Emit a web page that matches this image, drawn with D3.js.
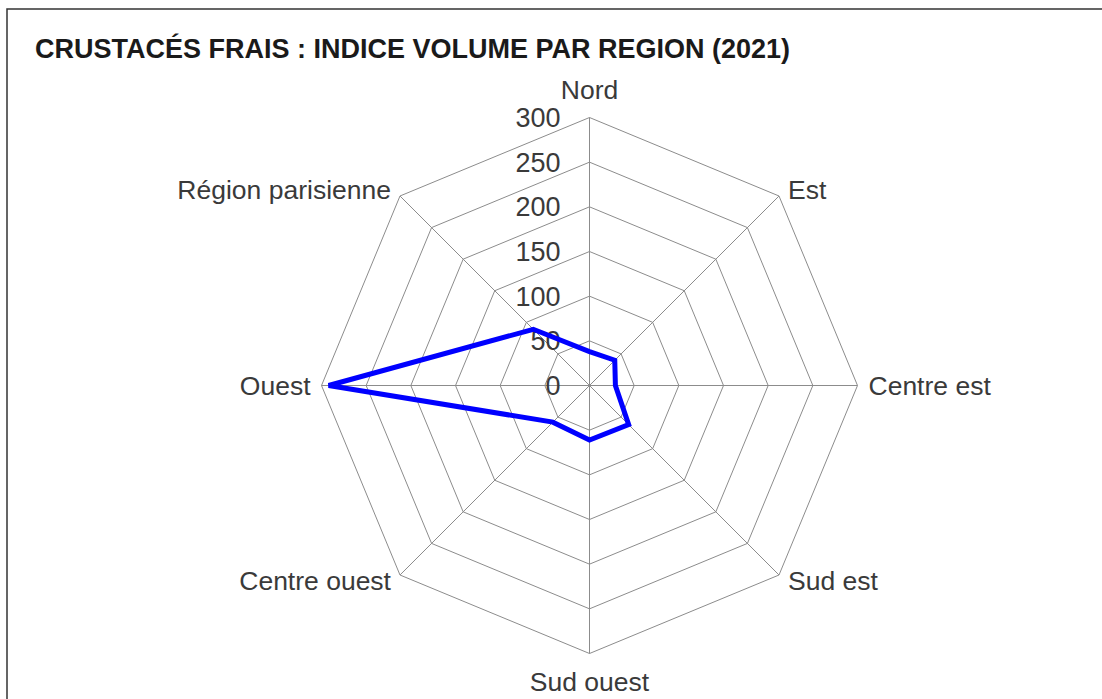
<!DOCTYPE html>
<html>
<head>
<meta charset="utf-8">
<script src="https://cdn.jsdelivr.net/npm/d3@7"></script>
<style>
  html, body { margin: 0; padding: 0; background: #fff; }
  svg { display: block; }
  text { font-family: "Liberation Sans", Arial, sans-serif; }
</style>
</head>
<body>
<svg id="chart" width="1102" height="699"></svg>
<script>
// Regions, clockwise from the top
const regions = ["Nord", "Est", "Centre est", "Sud est", "Sud ouest", "Centre ouest", "Ouest", "Région parisienne"];
// Volume index per region (2021)
const indexValues = [38, 40, 29, 62, 61, 58, 292, 89];
// Radial ticks
const radialTicks = [0, 50, 100, 150, 200, 250, 300];
const titleText = "CRUSTACÉS FRAIS : INDICE VOLUME PAR REGION (2021)";

const svg = d3.select("#chart");
const W = 1102, H = 699;
const cx = 589.5, cy = 385.5, R = 268;

const r = d3.scaleLinear().domain([0, 300]).range([0, R]);
const angle = d3.scalePoint().domain(d3.range(regions.length)).range([0, 2 * Math.PI * (regions.length - 1) / regions.length]);

const pt = (i, v) => {
  const a = angle(i);
  return [cx + r(v) * Math.sin(a), cy - r(v) * Math.cos(a)];
};

// Frame (top and left edges)
svg.append("path")
  .attr("d", `M7,${H} L7,9 L${W},9`)
  .attr("fill", "none").attr("stroke", "#333").attr("stroke-width", 1.5);

// Title
svg.append("text")
  .attr("x", 35).attr("y", 58)
  .attr("font-size", 27).attr("font-weight", "bold").attr("fill", "#1a1a1a")
  .text(titleText);

const grid = svg.append("g").attr("stroke", "#8c8c8c").attr("stroke-width", 1).attr("fill", "none");

// Octagonal rings
radialTicks.filter(t => t > 0).forEach(t => {
  grid.append("path")
    .attr("d", d3.line()(regions.map((_, i) => pt(i, t))) + "Z");
});

// Spokes
regions.forEach((_, i) => {
  const [x, y] = pt(i, 300);
  grid.append("line").attr("x1", cx).attr("y1", cy).attr("x2", x).attr("y2", y);
});

// Radial tick labels along the Nord spoke
svg.append("g").selectAll("text")
  .data(radialTicks)
  .join("text")
  .attr("x", cx - 29)
  .attr("y", d => cy - r(d))
  .attr("dy", "0.35em")
  .attr("text-anchor", "end")
  .attr("font-size", 27)
  .attr("fill", "#3a3a3a")
  .text(d => d);

// Region labels, placed just outside the end of each spoke
svg.append("g").selectAll("text")
  .data(regions)
  .join("text")
  .each(function (d, i) {
    const a = angle(i);
    const s = Math.round(Math.sin(a) * 1e6) / 1e6;
    const c = Math.round(Math.cos(a) * 1e6) / 1e6;
    const [ex, ey] = pt(i, 300);
    let x = ex, y = ey, anchor = "middle";
    if (s === 0) {
      y = ey - 28 * c;
    } else {
      anchor = s > 0 ? "start" : "end";
      x = ex + Math.sign(s) * (c === 0 ? 11 : 9);
      y = ey - 6 * Math.sign(c);
    }
    d3.select(this)
      .attr("x", x)
      .attr("y", y)
      .attr("dy", "0.35em")
      .attr("text-anchor", anchor);
  })
  .attr("font-size", 26.5)
  .attr("fill", "#3a3a3a")
  .text(d => d);

// Data polygon
svg.append("path")
  .attr("d", d3.line()(indexValues.map((v, i) => pt(i, v))) + "Z")
  .attr("fill", "none")
  .attr("stroke", "#0000ff")
  .attr("stroke-width", 5)
  .attr("stroke-linejoin", "miter");
</script>
</body>
</html>
